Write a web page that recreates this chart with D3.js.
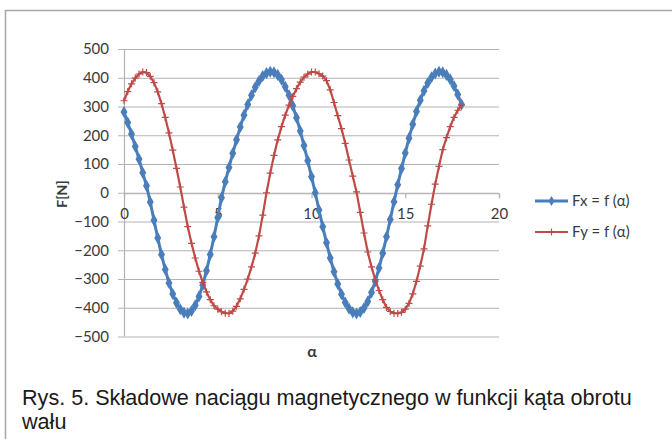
<!DOCTYPE html>
<html>
<head>
<meta charset="utf-8">
<script src="https://cdn.jsdelivr.net/npm/d3@7"></script>
<style>
  html, body { margin: 0; padding: 0; background: #fff; }
  svg { display: block; }
</style>
</head>
<body>
<svg id="chart" width="672" height="439"></svg>
<script>
// ---- data ----
const alpha = [0,0.2,0.4,0.6,0.8,1,1.2,1.4,1.6,1.8,2,2.2,2.4,2.6,2.8,3,3.2,3.4,3.6,3.8,4,4.2,4.4,4.6,4.8,5,5.2,5.4,5.6,5.8,6,6.2,6.4,6.6,6.8,7,7.2,7.4,7.6,7.8,8,8.2,8.4,8.6,8.8,9,9.2,9.4,9.6,9.8,10,10.2,10.4,10.6,10.8,11,11.2,11.4,11.6,11.8,12,12.2,12.4,12.6,12.8,13,13.2,13.4,13.6,13.8,14,14.2,14.4,14.6,14.8,15,15.2,15.4,15.6,15.8,16,16.2,16.4,16.6,16.8,17,17.2,17.4,17.6,17.8,18];
const fx = [281,244,204,161,117,70,24,-32,-96,-157,-215,-267,-314,-352,-383,-405,-417,-420,-411,-391,-361,-321,-271,-215,-153,-86,-17,38,88,137,184,229,270,307,339,367,389,406,416,421,419,410,393,369,339,303,261,215,164,111,56,0,-60,-118,-174,-227,-275,-317,-353,-382,-403,-416,-420,-415,-401,-378,-347,-308,-262,-210,-153,-93,-31,28,84,138,190,238,283,322,355,382,402,415,421,419,410,394,371,342,307];
const fy = [320,352,379,399,413,420,418,405,383,351,310,262,208,148,85,20,-50,-118,-176,-227,-273,-312,-345,-372,-393,-405,-414,-419,-420,-412,-395,-369,-336,-300,-258,-210,-150,-78,0,68,130,184,230,270,305,335,362,385,402,413,420,420,414,406,390,358,314,268,223,172,114,58,3,-68,-140,-206,-258,-302,-340,-372,-399,-413,-419,-420,-416,-405,-385,-352,-308,-255,-195,-115,-40,30,92,150,192,230,262,287,305];
const seriesNames = ["Fx = f (\u03b1)", "Fy = f (\u03b1)"];
const xTicks = [0, 5, 10, 15, 20];
const yTicks = [500, 400, 300, 200, 100, 0, -100, -200, -300, -400, -500];
const yTitle = "F[N]";
const xTitle = "\u03b1";
const captionLines = ["Rys. 5. Sk\u0142adowe naci\u0105gu magnetycznego w funkcji k\u0105ta obrotu", "wa\u0142u"];

// ---- layout ----
const svg = d3.select("#chart");
const blue = "#4a7ebb", red = "#be4b48";
const gridColor = "#b3b3b3";
const labelFont = "Lato, 'Open Sans', sans-serif";

svg.append("rect").attr("x", 5.5).attr("y", 10.5).attr("width", 720).attr("height", 500)
  .attr("fill", "#fff").attr("stroke", "#a6a6a6").attr("stroke-width", 1.5);

const x = d3.scaleLinear().domain([0, 20]).range([124, 499]);
const y = d3.scaleLinear().domain([-500, 500]).range([336.5, 49]);

// gridlines + y axis ticks
svg.append("g").selectAll("line").data(yTicks).join("line")
  .attr("x1", 118).attr("x2", x(20))
  .attr("y1", d => y(d) + 0.5).attr("y2", d => y(d) + 0.5)
  .attr("stroke", gridColor).attr("stroke-width", 1.2);

// y axis line
svg.append("line").attr("x1", x(0) + 0.5).attr("x2", x(0) + 0.5)
  .attr("y1", y(500)).attr("y2", y(-500))
  .attr("stroke", gridColor).attr("stroke-width", 1.2);

// x axis (at y = 0)
const xAxis = d3.axisBottom(x).tickValues(xTicks).tickSize(5).tickPadding(10).tickFormat(d3.format("d"));
const gx = svg.append("g").attr("transform", `translate(0,${y(0) + 0.5})`).call(xAxis);
gx.select(".domain").attr("stroke", gridColor).attr("stroke-width", 1.2);
gx.selectAll(".tick line").attr("stroke", gridColor).attr("stroke-width", 1.2);
gx.selectAll(".tick text").attr("font-family", labelFont).attr("font-size", 15).attr("fill", "#3a3a3a");

// y labels
const yAxis = d3.axisLeft(y).tickValues(yTicks).tickSize(0).tickPadding(15).tickFormat(d3.format("d"));
const gy = svg.append("g").attr("transform", `translate(${x(0)},0)`).call(yAxis);
gy.select(".domain").remove();
gy.selectAll(".tick text").attr("font-family", labelFont).attr("font-size", 15).attr("fill", "#3a3a3a");

// axis titles
svg.append("text").attr("transform", "translate(67,194) rotate(-90)")
  .attr("text-anchor", "middle").attr("font-family", labelFont).attr("font-weight", "bold")
  .attr("font-size", 14).attr("fill", "#3a3a3a").text(yTitle);
svg.append("text").attr("x", 312).attr("y", 357)
  .attr("text-anchor", "middle").attr("font-family", labelFont).attr("font-weight", "bold")
  .attr("font-size", 16).attr("fill", "#3a3a3a").text(xTitle);

// series
const line = d3.line().x(d => x(d[0])).y(d => y(d[1]));
const ptsX = alpha.map((a, i) => [a, fx[i]]);
const ptsY = alpha.map((a, i) => [a, fy[i]]);

const diamond = d3.symbol().type(d3.symbolDiamond).size(42);

// Fx (blue) with diamond markers
svg.append("path").datum(ptsX).attr("d", line).attr("fill", "none")
  .attr("stroke", blue).attr("stroke-width", 3).attr("stroke-linejoin", "round");
svg.append("g").selectAll("path").data(ptsX).join("path")
  .attr("d", diamond).attr("transform", d => `translate(${x(d[0])},${y(d[1])})`)
  .attr("fill", blue);

// Fy (red) with plus markers
svg.append("path").datum(ptsY).attr("d", line).attr("fill", "none")
  .attr("stroke", red).attr("stroke-width", 2.2).attr("stroke-linejoin", "round");
svg.append("g").selectAll("path").data(ptsY).join("path")
  .attr("d", "M-3.5,0H3.5M0,-3.5V3.5").attr("transform", d => `translate(${x(d[0])},${y(d[1])})`)
  .attr("stroke", red).attr("stroke-width", 1.2).attr("fill", "none");

// legend
const legend = svg.append("g");
const legY = [201, 232];
const legColors = [blue, red];
seriesNames.forEach((name, i) => {
  const g = legend.append("g").attr("transform", `translate(0,${legY[i]})`);
  g.append("line").attr("x1", 535).attr("x2", 568).attr("y1", 0).attr("y2", 0)
    .attr("stroke", legColors[i]).attr("stroke-width", i === 0 ? 3 : 2.2);
  if (i === 0) {
    g.append("path").attr("d", d3.symbol().type(d3.symbolDiamond).size(30)).attr("transform", "translate(551.5,0)").attr("fill", blue);
  } else {
    g.append("path").attr("d", "M-3.5,0H3.5M0,-3.5V3.5").attr("transform", "translate(551.5,0)")
      .attr("stroke", red).attr("stroke-width", 1.2);
  }
  g.append("text").attr("x", 572).attr("y", 0).attr("dy", "0.35em")
    .attr("font-family", labelFont).attr("font-size", 15).attr("fill", "#3a3a3a").text(name);
});

// caption
svg.append("g").selectAll("text").data(captionLines).join("text")
  .attr("x", 22).attr("y", (d, i) => 405 + i * 24)
  .attr("font-family", "'Liberation Sans', Arial, sans-serif").attr("font-size", 21.6)
  .attr("fill", "#1a1a1a").text(d => d);
</script>
</body>
</html>
